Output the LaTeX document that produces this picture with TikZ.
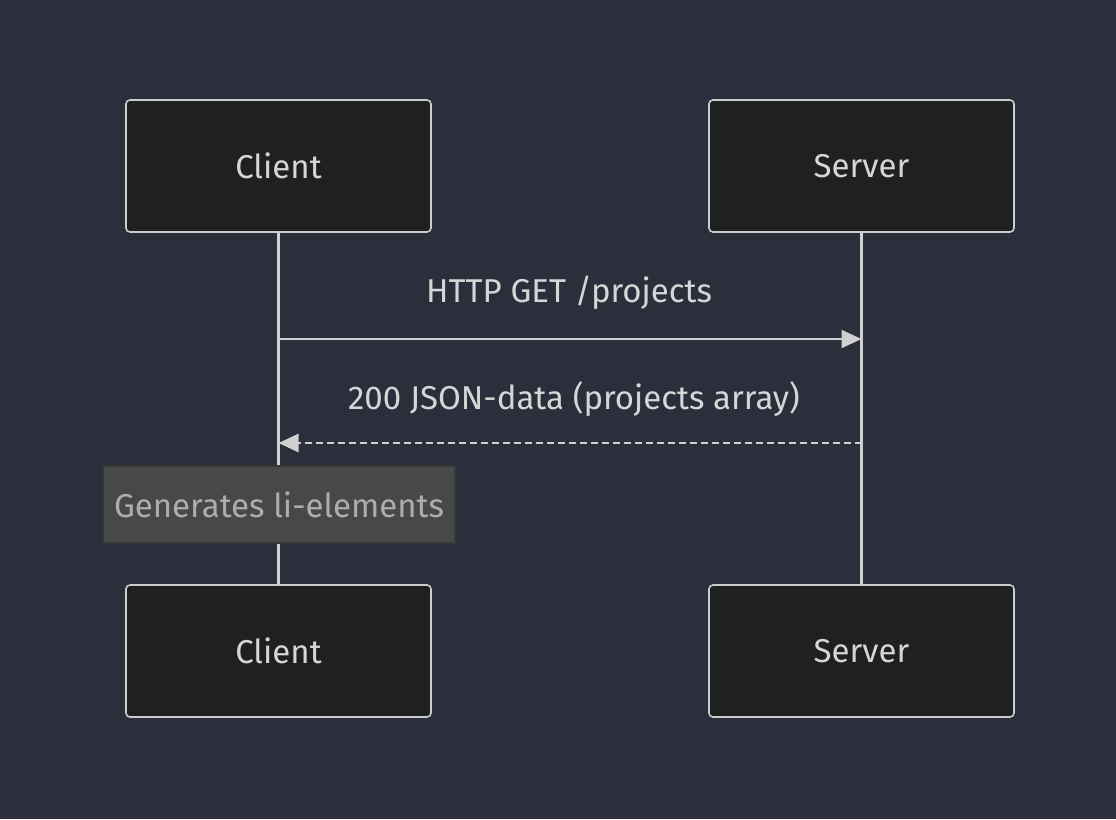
\documentclass[tikz,border=0pt]{standalone}
\usepackage{fontspec}
\setmainfont{Fira Sans}
\usetikzlibrary{arrows.meta}
\definecolor{bg}{HTML}{2B2F3B}
\definecolor{boxfill}{HTML}{1F2020}
\definecolor{boxline}{HTML}{CCCCCC}
\definecolor{txt}{HTML}{D6D6D6}
\definecolor{notefill}{HTML}{474948}
\definecolor{noteline}{HTML}{363838}
\definecolor{notetxt}{HTML}{ADADAD}
\definecolor{msgline}{HTML}{D0D0D0}
\begin{document}
\begin{tikzpicture}[x=1pt,y=-1pt,
  actor/.style={draw=boxline,fill=boxfill,line width=1.6pt,rounded corners=4pt,minimum width=305pt,minimum height=132pt,text=txt,font=\fontsize{33}{38}\selectfont,inner sep=0pt},
  life/.style={draw=msgline,line width=2.6pt},
  msg/.style={draw=msgline,line width=2.2pt,-{Triangle[length=20pt,width=18pt]}},
  msgtxt/.style={text=txt,font=\fontsize{33}{38}\selectfont,inner sep=0pt},
  notebox/.style={draw=noteline,fill=notefill,line width=1.2pt,minimum width=352pt,minimum height=77pt,text=notetxt,font=\fontsize{33}{38}\selectfont,inner sep=0pt}]
\fill[bg] (0,0) rectangle (1116,819);
\useasboundingbox (0,0) rectangle (1116,819);
\node[actor] (c1) at (278.5,166) {Client};
\node[actor] (s1) at (861.5,166) {Server};
\node[actor] (c2) at (278.5,651) {Client};
\node[actor] (s2) at (861.5,651) {Server};
\draw[life] (c1.south) -- (c2.north);
\draw[life] (s1.south) -- (s2.north);
\coordinate (m1a) at (c1.south |- 0,339);
\coordinate (m1b) at (s1.south |- 0,339);
\coordinate (m2a) at (s1.south |- 0,443);
\coordinate (m2b) at (c1.south |- 0,443);
\draw[msg] (m1a) -- (m1b);
\draw[msg,line width=2.6pt,dash pattern=on 7pt off 4pt] (m2a) -- (m2b);
\node[msgtxt] (t1) at (569,293) {HTTP GET /projects};
\node[msgtxt] (t2) at (574,399) {200 JSON-data (projects array)};
\node[notebox] (n1) at (279,504.5) {Generates li-elements};
\end{tikzpicture}
\end{document}
